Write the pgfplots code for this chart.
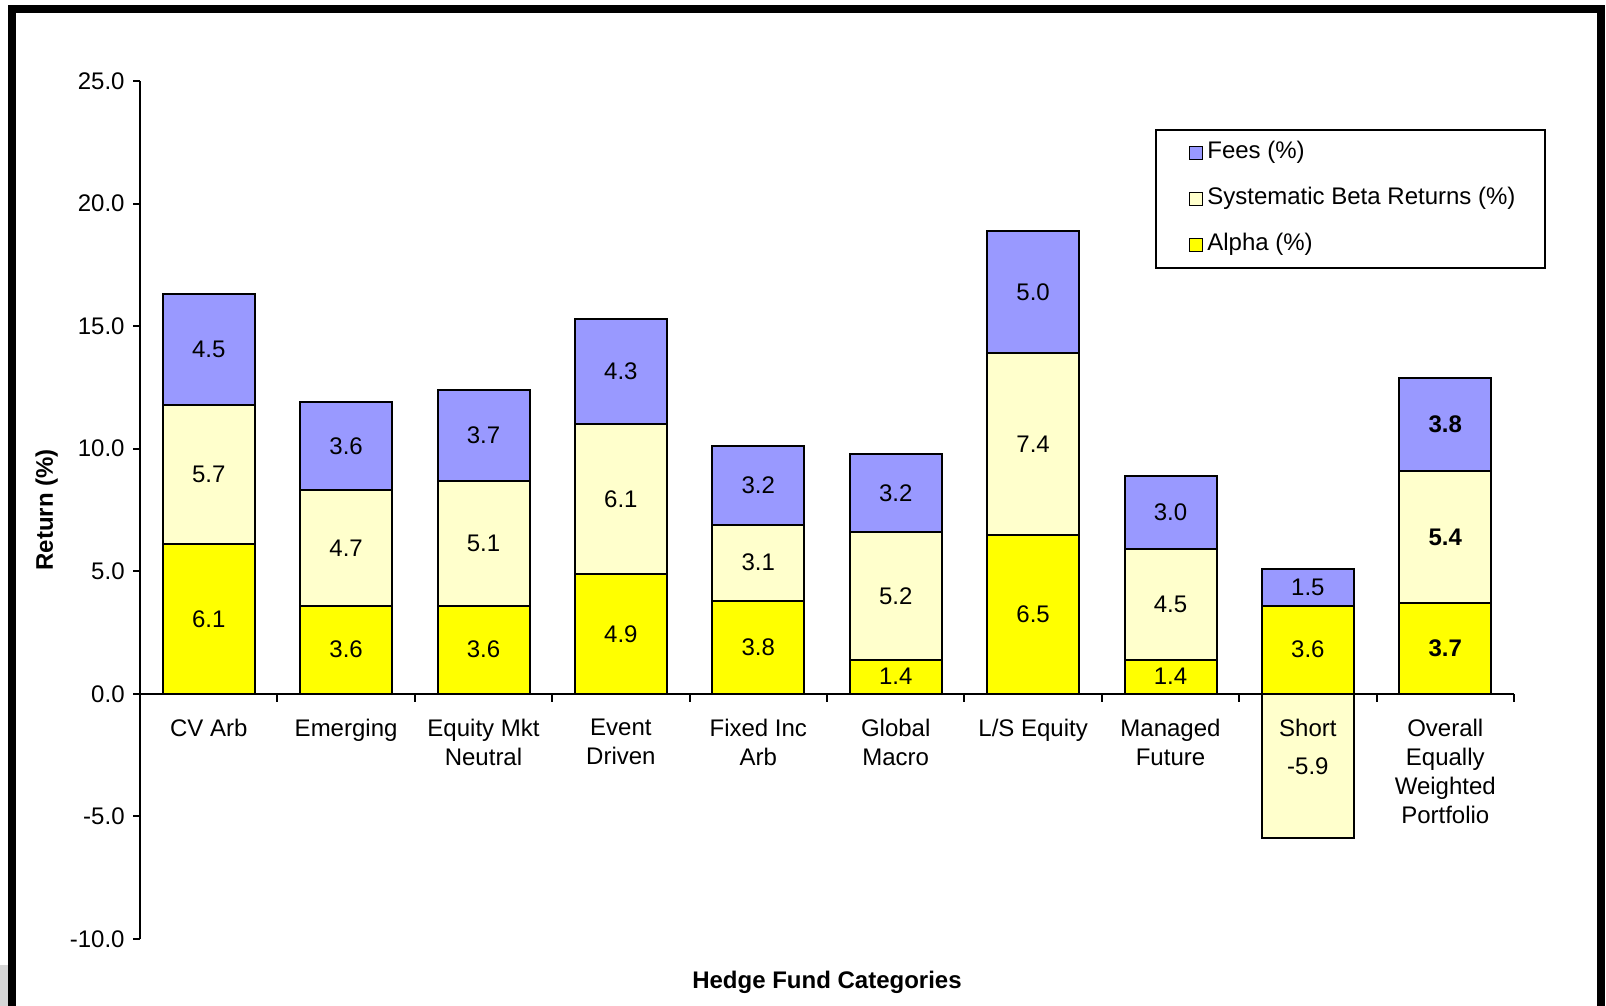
\documentclass[border=0pt]{standalone}
\usepackage{pgfplots}
\pgfplotsset{compat=1.18}
\usepackage{pgfplotstable}
\usepackage{fontspec}
\setmainfont{Liberation Sans}

\definecolor{feecol}{HTML}{9999FF}
\definecolor{betacol}{HTML}{FFFFCC}
\definecolor{alphacol}{HTML}{FFFF00}

% Return decomposition by hedge fund category (%)
\pgfplotstableread{
x alpha beta fees
0 6.1 5.7 4.5
1 3.6 4.7 3.6
2 3.6 5.1 3.7
3 4.9 6.1 4.3
4 3.8 3.1 3.2
5 1.4 5.2 3.2
6 6.5 7.4 5.0
7 1.4 4.5 3.0
8 3.6 -5.9 1.5
9 3.7 5.4 3.8
}\returns

\pgfplotsset{
  segment/.style={
    fill=#1, draw=black, line width=1pt,
    legend image code/.code={\path (0pt,0pt); \draw[##1, line width=0.8pt] (3.5pt,-3.25pt) rectangle (10pt,3.25pt);},
    every node near coord/.append style={anchor=center},
  },
}

\begin{document}
\fontsize{12}{14.4}\selectfont%
\begin{tikzpicture}[x=0.5pt,y=0.5pt]
\useasboundingbox (0,0) rectangle (1606,1006);
\fill[white] (0,0) rectangle (1606,1006);
\begin{axis}[
  at={(70pt,33.5pt)}, anchor=south west,
  scale only axis, width=687pt, height=429pt,
  ybar stacked, stack negative=separate,
  bar width=46pt,
  xmin=-0.5, xmax=9.5, ymin=-10, ymax=25,
  axis on top,
  axis x line*=middle, axis y line*=left,
  axis line style={line width=1pt, black},
  xtick={0,...,9},
  xticklabels={CV Arb, Emerging, {Equity Mkt\\Neutral}, {Event\\Driven}, {Fixed Inc\\Arb}, {Global\\Macro}, L/S Equity, {Managed\\Future}, Short, {Overall\\Equally\\Weighted\\Portfolio}},
  x tick label style={align=center, anchor=north, yshift=-5pt},
  major x tick style={draw=none},
  minor xtick={-0.5,0.5,...,9.5},
  minor tick length=4pt,
  ytick={-10,-5,...,25},
  yticklabels={-10.0,-5.0,0.0,5.0,10.0,15.0,20.0,25.0},
  major tick length=3.5pt,
  tick align=outside,
  tick style={line width=1pt, black},
  ylabel={\bfseries Return (\%)},
  every axis y label/.style={at={(axis description cs:-0.0680,0.5)}, rotate=90, anchor=center},
  xlabel={\bfseries Hedge Fund Categories},
  every axis x label/.style={at={(axis description cs:0.5,-0.0501)}, anchor=center},
  point meta=explicit symbolic,
  visualization depends on={\thisrow{x} \as \cx},
  nodes near coords={\ifdim\cx pt>8.5pt \bfseries\fi\pgfplotspointmeta},
  legend style={at={(axis description cs:0.7384,0.9441)}, anchor=north west,
    draw=black, line width=1pt, inner xsep=13pt, inner ysep=4pt, row sep=8pt,
    nodes={inner sep=2pt, text height=8.5pt, text depth=2.5pt}},
  legend cell align=left,
  reverse legend,
]
\addplot[segment=alphacol] table[x=x, y=alpha, meta=alpha] {\returns};
\addplot[segment=betacol] table[x=x, y=beta, meta=beta] {\returns};
\addplot[segment=feecol] table[x=x, y=fees, meta=fees] {\returns};
\legend{Alpha (\%), Systematic Beta Returns (\%), Fees (\%)}
\end{axis}
% outer frame
\fill[black!16] (0,0) rectangle (8,41);
\draw[line width=4pt, line join=miter] (12,-20) -- (12,997) -- (1601,997) -- (1601,-20);
\end{tikzpicture}
\end{document}
